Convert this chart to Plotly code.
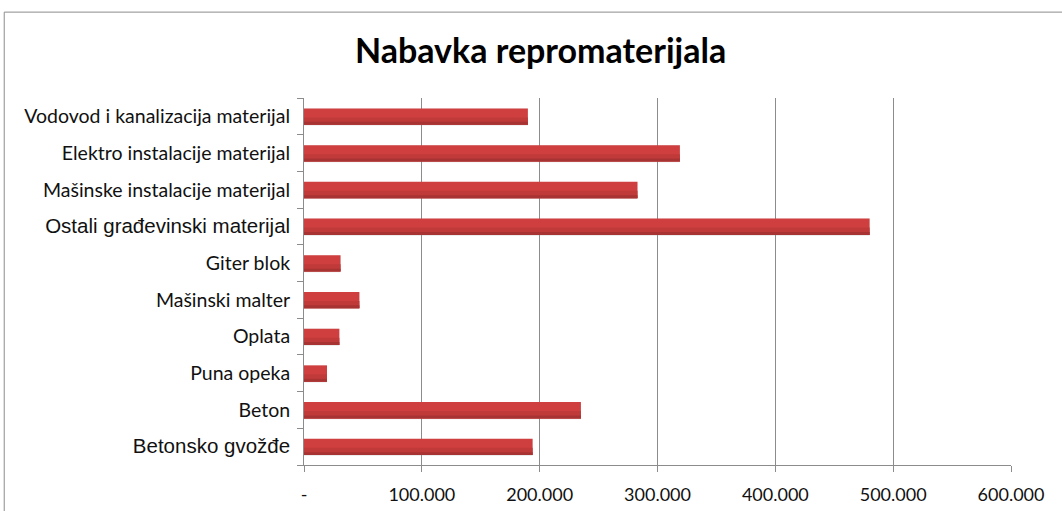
import plotly.graph_objects as go

categories = [
    "Betonsko gvožđe",
    "Beton",
    "Puna opeka",
    "Oplata",
    "Mašinski malter",
    "Giter blok",
    "Ostali građevinski materijal",
    "Mašinske instalacije materijal",
    "Elektro instalacije materijal",
    "Vodovod i kanalizacija materijal",
]
values = [194000, 235000, 19500, 30000, 47000, 31000, 480000, 283000, 319000, 190000]
x_tickvals = [0, 100000, 200000, 300000, 400000, 500000, 600000]
x_ticktext = ["-", "100.000", "200.000", "300.000", "400.000", "500.000", "600.000"]
arial_labels = {"Betonsko gvožđe", "Ostali građevinski materijal"}

ticktext = [
    f"<span style='font-family:Liberation Sans, Arial; font-size:20.5px'>{c}</span>" if c in arial_labels else c
    for c in categories
]

fig = go.Figure()
# soft shadow
fig.add_trace(go.Bar(y=categories, x=values, orientation="h", width=0.46, offset=-0.25,
                     marker=dict(color="rgba(140,140,140,0.22)", line=dict(width=0)),
                     hoverinfo="skip", showlegend=False))
# main bar
fig.add_trace(go.Bar(y=categories, x=values, orientation="h", width=0.445, offset=-0.23,
                     marker=dict(color="#cf3f3f", line=dict(width=0)), showlegend=False))
# darker lower parts to mimic gradient
fig.add_trace(go.Bar(y=categories, x=values, orientation="h", width=0.2, offset=-0.23,
                     marker=dict(color="#c03a3a", line=dict(width=0)),
                     hoverinfo="skip", showlegend=False))
fig.add_trace(go.Bar(y=categories, x=values, orientation="h", width=0.08, offset=-0.23,
                     marker=dict(color="#a83333", line=dict(width=0)),
                     hoverinfo="skip", showlegend=False))

fig.update_layout(
    width=1062, height=511,
    margin=dict(l=304, r=51, t=98, b=46),
    paper_bgcolor="white", plot_bgcolor="white",
    barmode="overlay",
    title=dict(text="<b>Nabavka repromaterijala</b>", x=0.509, xanchor="center",
               y=0.9, yanchor="middle", font=dict(family="Lato", size=34, color="black")),
    font=dict(family="Lato", size=19, color="#111"),
    xaxis=dict(range=[0, 600000], tickvals=x_tickvals, ticktext=x_ticktext,
               automargin=False,
               showgrid=True, gridcolor="#8c8c8c", gridwidth=1,
               ticks="outside", ticklen=6, tickcolor="#8c8c8c",
               showline=True, linecolor="#8c8c8c", linewidth=1,
               zeroline=False, ticklabelstandoff=7,
               tickfont=dict(family="Lato", size=18, color="#111")),
    yaxis=dict(type="category", range=[-0.5, 9.5], tickvals=categories, ticktext=ticktext,
               automargin=False, tickson="boundaries",
               ticks="outside", ticklen=6, tickcolor="#8c8c8c",
               showline=True, linecolor="#8c8c8c", linewidth=1,
               showgrid=False, zeroline=False, ticklabelstandoff=9,
               tickfont=dict(family="Lato", size=19.5, color="#111")),
    shapes=[dict(type="rect", xref="paper", yref="paper",
                 x0=-0.424, x1=1.2, y0=-0.3, y1=1.234,
                 line=dict(color="#8c8c8c", width=1), fillcolor="rgba(0,0,0,0)")],
)

fig.write_html("out.html", config={"displayModeBar": False},
               post_script="document.body.style.margin='0';")
